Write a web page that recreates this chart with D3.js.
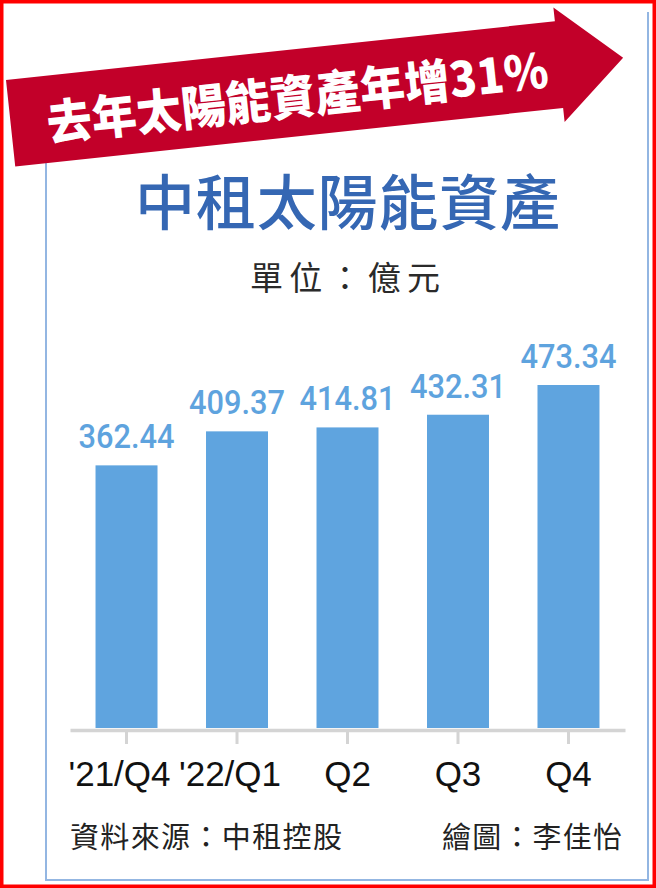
<!DOCTYPE html>
<html>
<head>
<meta charset="utf-8">
<script src="https://cdn.jsdelivr.net/npm/d3@7"></script>
<style>
  html, body { margin: 0; padding: 0; background: #fff; }
  svg { display: block; }
</style>
</head>
<body>
<script>
// chart values
const quarters = ["'21/Q4", "'22/Q1", "Q2", "Q3", "Q4"];
const assets = [362.44, 409.37, 414.81, 432.31, 473.34];

const bannerText = "去年太陽能資產年增31%";
const titleText = "中租太陽能資產";
const unitText = "單位：億元";
const sourceText = "資料來源：中租控股";
const creditText = "繪圖：李佳怡";

const width = 656;
const height = 888;
const cjk = "'Noto Sans CJK TC', 'Noto Sans CJK SC', sans-serif";
const latin = "'Liberation Sans', Arial, sans-serif";

const svg = d3.select("body").append("svg")
  .attr("width", width)
  .attr("height", height);

svg.append("rect")
  .attr("width", width).attr("height", height)
  .attr("fill", "#fff");

// light blue frame (top hidden behind the banner)
svg.append("path")
  .attr("d", "M46,120 L46,880 L648,880 L648,12")
  .attr("fill", "none")
  .attr("stroke", "#93b6e2")
  .attr("stroke-width", 2);

// red arrow banner
const banner = svg.append("g")
  .attr("transform", "translate(6,80) rotate(-6.1)");

banner.append("path")
  .attr("d", "M0,0 L552,0 L552,-14 L616,43.5 L551,101 L551,87 L0,87 Z")
  .attr("fill", "#c20029");

banner.append("text")
  .attr("x", 36)
  .attr("y", 44)
  .attr("dominant-baseline", "central")
  .attr("textLength", 504)
  .attr("lengthAdjust", "spacingAndGlyphs")
  .attr("fill", "#fff")
  .style("font-family", cjk)
  .style("font-weight", 900)
  .style("font-size", "48px")
  .text(bannerText);

// title + unit
svg.append("text")
  .attr("x", 347.5)
  .attr("y", 198)
  .attr("text-anchor", "middle")
  .attr("dominant-baseline", "central")
  .attr("textLength", 425)
  .attr("fill", "#3567b3")
  .style("font-family", cjk)
  .style("font-weight", 500)
  .style("font-size", "60px")
  .text(titleText);

svg.append("text")
  .attr("x", 345)
  .attr("y", 276)
  .attr("text-anchor", "middle")
  .attr("dominant-baseline", "central")
  .attr("textLength", 190)
  .attr("fill", "#2a2a2a")
  .style("font-family", cjk)
  .style("font-size", "33px")
  .text(unitText);

// scales
const xScale = d3.scaleBand()
  .domain(quarters)
  .range([70, 625])
  .paddingInner(0.439)
  .paddingOuter(0.231);

const yScale = d3.scaleLinear()
  .domain([0, 473.34])
  .range([728, 385]);

// bars
svg.append("g")
  .selectAll("rect")
  .data(assets)
  .enter()
  .append("rect")
  .attr("x", (d, i) => xScale(quarters[i]))
  .attr("y", (d) => yScale(d))
  .attr("width", xScale.bandwidth())
  .attr("height", (d) => yScale(0) - yScale(d))
  .attr("fill", "#5fa4df");

// value labels
svg.append("g")
  .selectAll("text")
  .data(assets)
  .enter()
  .append("text")
  .attr("x", (d, i) => xScale(quarters[i]) + xScale.bandwidth() / 2)
  .attr("y", (d) => yScale(d) - 17)
  .attr("text-anchor", "middle")
  .attr("textLength", 96)
  .attr("lengthAdjust", "spacingAndGlyphs")
  .attr("fill", "#5ea3de")
  .style("font-family", "Roboto, " + latin)
  .style("font-weight", 500)
  .style("font-size", "33px")
  .text((d) => d.toFixed(2));

// x axis
const xAxis = d3.axisBottom(xScale)
  .tickSizeOuter(0)
  .tickSizeInner(14)
  .tickPadding(17);

const axisG = svg.append("g")
  .attr("transform", "translate(0,730)")
  .call(xAxis);

axisG.select(".domain")
  .attr("stroke", "#d4d4d4")
  .attr("stroke-width", 3.5);

axisG.selectAll(".tick line")
  .attr("stroke", "#d4d4d4")
  .attr("stroke-width", 3);

axisG.selectAll(".tick text")
  .attr("fill", "#111")
  .attr("dx", (d) => (d.startsWith("'") ? "-0.2em" : 0))
  .style("font-family", latin)
  .style("font-size", "35px");

// footer
svg.append("text")
  .attr("x", 70)
  .attr("y", 835)
  .attr("dominant-baseline", "central")
  .attr("textLength", 272)
  .attr("fill", "#222")
  .style("font-family", cjk)
  .style("font-size", "29px")
  .text(sourceText);

svg.append("text")
  .attr("x", 622)
  .attr("y", 835)
  .attr("text-anchor", "end")
  .attr("dominant-baseline", "central")
  .attr("textLength", 180)
  .attr("fill", "#222")
  .style("font-family", cjk)
  .style("font-size", "29px")
  .text(creditText);

// red outer border
svg.append("rect")
  .attr("x", 1.75).attr("y", 1.75)
  .attr("width", width - 3.5).attr("height", height - 3.5)
  .attr("fill", "none")
  .attr("stroke", "#ff0000")
  .attr("stroke-width", 3.5);
</script>
</body>
</html>
